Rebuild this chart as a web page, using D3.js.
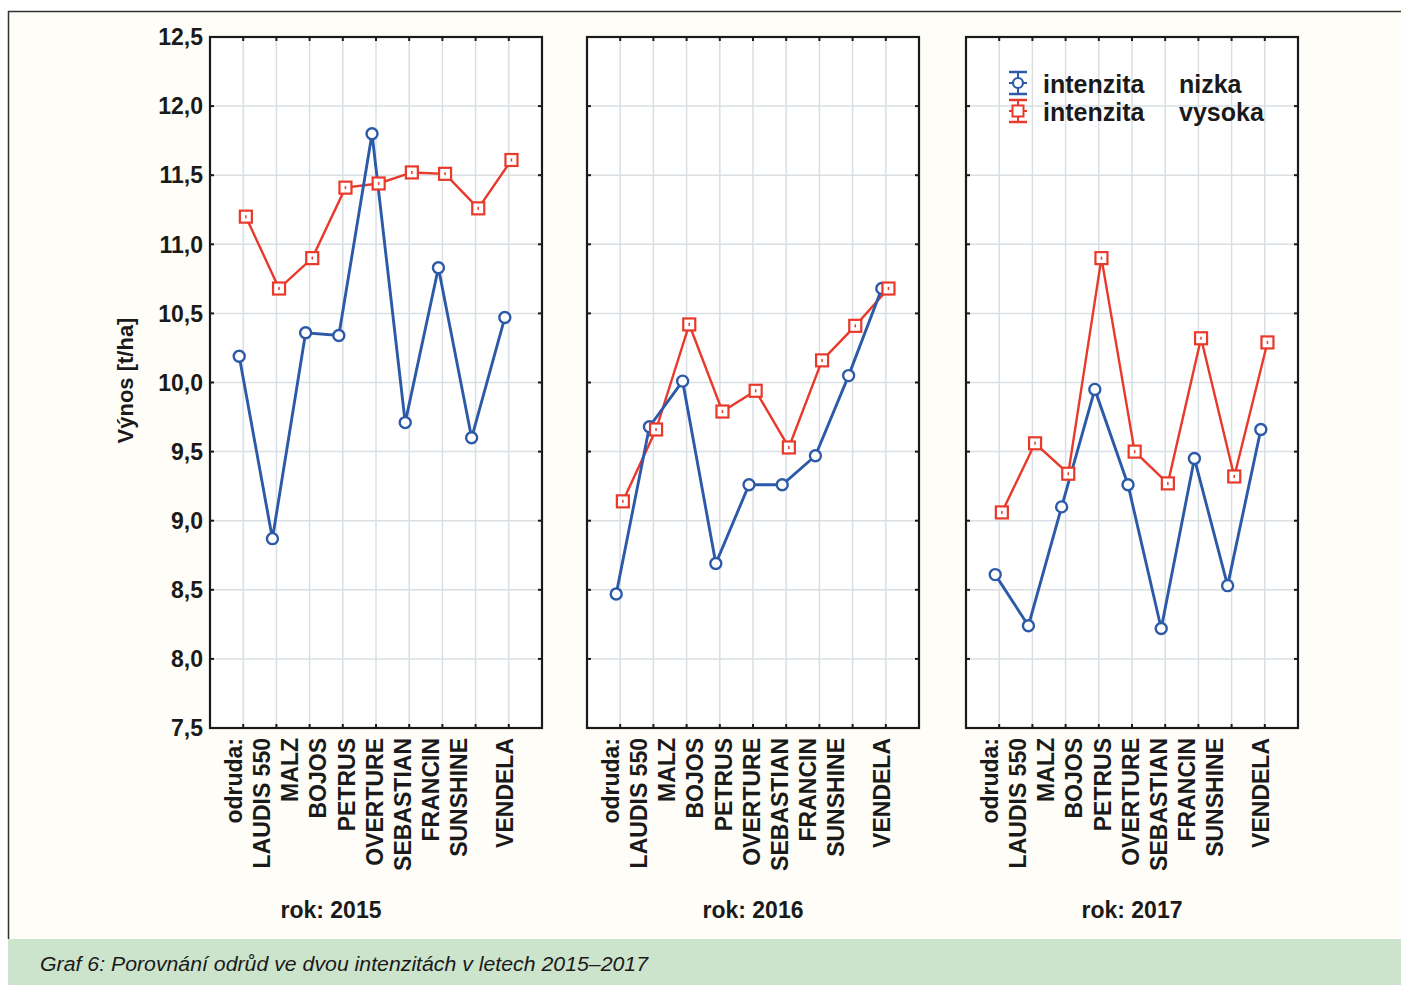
<!DOCTYPE html>
<html>
<head>
<meta charset="utf-8">
<script src="https://cdn.jsdelivr.net/npm/d3@7"></script>
<style>
  html, body { margin: 0; padding: 0; background: #ffffff; }
  svg { display: block; }
  text { font-family: "Liberation Sans", Arial, sans-serif; fill: #1a1a1a; }
</style>
</head>
<body>
<svg id="chart" width="1401" height="985"></svg>
<script>
// ---- data ----
const categories = ["LAUDIS 550", "MALZ", "BOJOS", "PETRUS", "OVERTURE", "SEBASTIAN", "FRANCIN", "SUNSHINE", "VENDELA"];
const years = ["2015", "2016", "2017"];
const nizka2015 = [10.19, 8.87, 10.36, 10.34, 11.80, 9.71, 10.83, 9.60, 10.47];
const vysoka2015 = [11.20, 10.68, 10.90, 11.41, 11.44, 11.52, 11.51, 11.26, 11.61];
const nizka2016 = [8.47, 9.68, 10.01, 8.69, 9.26, 9.26, 9.47, 10.05, 10.68];
const vysoka2016 = [9.14, 9.66, 10.42, 9.79, 9.94, 9.53, 10.16, 10.41, 10.68];
const nizka2017 = [8.61, 8.24, 9.10, 9.95, 9.26, 8.22, 9.45, 8.53, 9.66];
const vysoka2017 = [9.06, 9.56, 9.34, 10.90, 9.50, 9.27, 10.32, 9.32, 10.29];
const yTicks = [7.5, 8.0, 8.5, 9.0, 9.5, 10.0, 10.5, 11.0, 11.5, 12.0, 12.5];
const yTickLabels = ["7,5", "8,0", "8,5", "9,0", "9,5", "10,0", "10,5", "11,0", "11,5", "12,0", "12,5"];
const seriesNames = ["intenzita", "intenzita"];
const seriesLevels = ["nizka", "vysoka"];
const xPrefix = "odruda:";
const yTitle = "Výnos [t/ha]";
const caption = "Graf 6: Porovnání odrůd ve dvou intenzitách v letech 2015–2017";

const nizka = [nizka2015, nizka2016, nizka2017];
const vysoka = [vysoka2015, vysoka2016, vysoka2017];

// ---- layout ----
const W = 1401, H = 985;
const BLUE = "#2c5aa8", RED = "#e8392b";
const panelLefts = [210, 587, 966];
const panelW = 332;
const plotTop = 37, plotBottom = 728;

const svg = d3.select("#chart");

// page background
svg.append("rect").attr("x", 0).attr("y", 0).attr("width", W).attr("height", H).attr("fill", "#ffffff");
svg.append("rect").attr("x", 8).attr("y", 11).attr("width", W - 8).attr("height", 928).attr("fill", "#fffdf7");
svg.append("line").attr("x1", 8).attr("x2", W).attr("y1", 11.5).attr("y2", 11.5).attr("stroke", "#333").attr("stroke-width", 1.5);
svg.append("line").attr("x1", 8.5).attr("x2", 8.5).attr("y1", 11).attr("y2", 939).attr("stroke", "#333").attr("stroke-width", 1.5);
svg.append("rect").attr("x", 8).attr("y", 939).attr("width", W - 8).attr("height", H - 939).attr("fill", "#cce3cc");

const cap = svg.append("text").attr("x", 40).attr("y", 971)
  .attr("font-size", 20).attr("font-style", "italic").attr("fill", "#222")
  .text(caption);
cap.attr("textLength", 608).attr("lengthAdjust", "spacingAndGlyphs");

const y = d3.scaleLinear().domain([7.5, 12.5]).range([plotBottom, plotTop]);

years.forEach((yr, p) => {
  const left = panelLefts[p];
  const x = d3.scaleLinear().domain([0, 10]).range([left, left + panelW]);
  const g = svg.append("g");

  g.append("rect").attr("x", left).attr("y", plotTop).attr("width", panelW).attr("height", plotBottom - plotTop).attr("fill", "#ffffff");

  const xt = d3.range(1, 10);
  g.selectAll(".vg").data(xt).join("line")
    .attr("x1", d => x(d)).attr("x2", d => x(d)).attr("y1", plotTop).attr("y2", plotBottom)
    .attr("stroke", "#d9dfe3").attr("stroke-width", 1.5);
  g.selectAll(".hg").data(yTicks.slice(1, -1)).join("line")
    .attr("x1", left).attr("x2", left + panelW).attr("y1", d => y(d)).attr("y2", d => y(d))
    .attr("stroke", "#d9dfe3").attr("stroke-width", 1.5);

  const tl = 4;
  xt.forEach(d => {
    g.append("line").attr("x1", x(d)).attr("x2", x(d)).attr("y1", plotTop).attr("y2", plotTop + tl).attr("stroke", "#1a1a1a").attr("stroke-width", 2);
    g.append("line").attr("x1", x(d)).attr("x2", x(d)).attr("y1", plotBottom).attr("y2", plotBottom - tl).attr("stroke", "#1a1a1a").attr("stroke-width", 2);
  });
  yTicks.slice(1, -1).forEach(d => {
    g.append("line").attr("x1", left).attr("x2", left + tl).attr("y1", y(d)).attr("y2", y(d)).attr("stroke", "#1a1a1a").attr("stroke-width", 2);
    g.append("line").attr("x1", left + panelW).attr("x2", left + panelW - tl).attr("y1", y(d)).attr("y2", y(d)).attr("stroke", "#1a1a1a").attr("stroke-width", 2);
  });

  g.append("rect").attr("x", left).attr("y", plotTop).attr("width", panelW).attr("height", plotBottom - plotTop)
    .attr("fill", "none").attr("stroke", "#1a1a1a").attr("stroke-width", 2.2);

  if (p === 0) {
    g.selectAll(".yl").data(yTicks).join("text")
      .attr("x", left - 7).attr("y", d => y(d)).attr("dy", "0.36em")
      .attr("text-anchor", "end").attr("font-size", 23).attr("font-weight", "bold")
      .text((d, i) => yTickLabels[i]);
    g.append("text").attr("transform", `translate(${125},${(plotTop + plotBottom) / 2 - 2}) rotate(-90)`)
      .attr("dy", "0.35em").attr("text-anchor", "middle").attr("font-size", 22).attr("font-weight", "bold")
      .text(yTitle);
  }

  const lab = d3.scalePoint().domain([xPrefix].concat(categories.slice(0, -1))).range([x(0.72), x(7.49)]);
  const labels = [xPrefix].concat(categories);
  labels.forEach((t, i) => {
    const cx = i < labels.length - 1 ? lab(t) : x(8.88);
    g.append("text").attr("transform", `translate(${cx},${plotBottom + 10}) rotate(-90)`)
      .attr("dy", "0.36em").attr("text-anchor", "end").attr("font-size", 23).attr("font-weight", "bold")
      .text(t);
  });

  const cxYear = p === 0 ? (120 + left + panelW) / 2 : left + panelW / 2;
  g.append("text").attr("x", cxYear).attr("y", 918).attr("text-anchor", "middle")
    .attr("font-size", 23).attr("font-weight", "bold").text("rok: " + yr);

  const line = off => d3.line().x((d, i) => x(i + 1 + off)).y(d => y(d));
  const offB = -0.12, offR = 0.08;
  g.append("path").datum(vysoka[p]).attr("d", line(offR)).attr("fill", "none").attr("stroke", RED).attr("stroke-width", 2.4);
  g.append("path").datum(nizka[p]).attr("d", line(offB)).attr("fill", "none").attr("stroke", BLUE).attr("stroke-width", 2.9);

  g.selectAll(".cb").data(nizka[p]).join("circle")
    .attr("cx", (d, i) => x(i + 1 + offB)).attr("cy", d => y(d)).attr("r", 5.5)
    .attr("fill", "#ffffff").attr("stroke", BLUE).attr("stroke-width", 2.4);

  g.selectAll(".sr").data(vysoka[p]).join("rect")
    .attr("x", (d, i) => x(i + 1 + offR) - 6).attr("y", d => y(d) - 6)
    .attr("width", 12).attr("height", 12)
    .attr("fill", "#ffffff").attr("stroke", RED).attr("stroke-width", 2.2);
  g.selectAll(".sd").data(vysoka[p]).join("line")
    .attr("x1", (d, i) => x(i + 1 + offR)).attr("x2", (d, i) => x(i + 1 + offR))
    .attr("y1", d => y(d) - 1.5).attr("y2", d => y(d) + 1.5)
    .attr("stroke", RED).attr("stroke-width", 1.5);
});

// legend
const lg = svg.append("g");
const lx = 1018;
const sym = (cy, col, isCircle) => {
  lg.append("line").attr("x1", lx - 9).attr("x2", lx + 9).attr("y1", cy - 11).attr("y2", cy - 11).attr("stroke", col).attr("stroke-width", 2.5);
  lg.append("line").attr("x1", lx - 9).attr("x2", lx + 9).attr("y1", cy + 11).attr("y2", cy + 11).attr("stroke", col).attr("stroke-width", 2.5);
  lg.append("line").attr("x1", lx).attr("x2", lx).attr("y1", cy - 11).attr("y2", cy + 11).attr("stroke", col).attr("stroke-width", 2);
  lg.append("line").attr("x1", lx - 9).attr("x2", lx + 9).attr("y1", cy).attr("y2", cy).attr("stroke", col).attr("stroke-width", 2);
  if (isCircle) {
    lg.append("circle").attr("cx", lx).attr("cy", cy).attr("r", 5).attr("fill", "#fff").attr("stroke", col).attr("stroke-width", 2.2);
  } else {
    lg.append("rect").attr("x", lx - 5.5).attr("y", cy - 5.5).attr("width", 11).attr("height", 11).attr("fill", "#fff").attr("stroke", col).attr("stroke-width", 2);
  }
};
sym(83, BLUE, true);
sym(111, RED, false);
[0, 1].forEach(i => {
  lg.append("text").attr("x", 1043).attr("y", 93 + i * 28).attr("font-size", 25).attr("font-weight", "bold").text(seriesNames[i]);
  lg.append("text").attr("x", 1179).attr("y", 93 + i * 28).attr("font-size", 25).attr("font-weight", "bold").text(seriesLevels[i]);
});
</script>
</body>
</html>
